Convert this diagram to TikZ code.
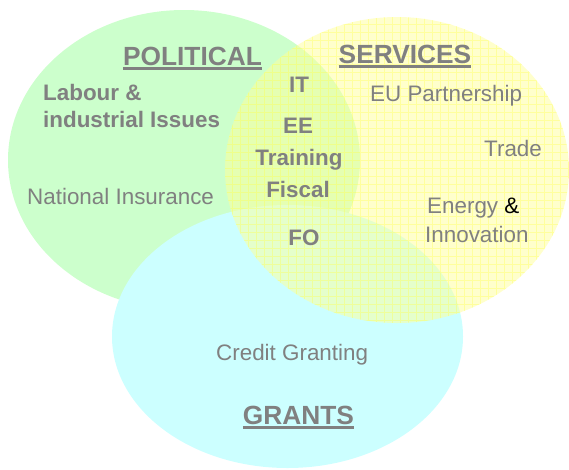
\documentclass[tikz,border=0pt]{standalone}
\usepackage{fontspec}
\setmainfont{Liberation Sans}
\definecolor{txt}{HTML}{808080}
\definecolor{gfill}{HTML}{CCFFCC}
\definecolor{cfill}{HTML}{CCFFFF}
\definecolor{yfill}{HTML}{FFFF99}
\definecolor{ygrid}{HTML}{FFFF44}
\tikzset{
  lbl/.style={inner sep=0pt, text=txt, font=\fontsize{22.4}{26}\selectfont},
  blbl/.style={inner sep=0pt, text=txt, font=\fontsize{22.4}{26}\selectfont\bfseries},
  ttl/.style={inner sep=0pt, text=txt, font=\fontsize{26.3}{30}\selectfont\bfseries},
  uline/.style={draw=txt, line width=2.6pt},
}
\begin{document}
\begin{tikzpicture}[x=1pt,y=-1pt]
\useasboundingbox (0,0) rectangle (569,469);
% circles
\fill[gfill] (184,160) ellipse [x radius=176, y radius=150];
\fill[cfill] (287.5,336.5) ellipse [x radius=175.5, y radius=131.5];
\fill[yfill, fill opacity=0.5] (397,170) ellipse [x radius=172, y radius=153];
\begin{scope}
  \clip (397,170) ellipse [x radius=172, y radius=153];
  \draw[ygrid, draw opacity=0.35, line width=0.5pt, step=8pt] (220,10) grid (575,330);
\end{scope}
% titles
\node[ttl, anchor=base] (pol) at (192.5,65) {POLITICAL};
\node[ttl, anchor=base] (ser) at (405,63) {SERVICES};
\node[ttl, anchor=base] (gra) at (298.5,424) {GRANTS};
\draw[uline] ([yshift=-3.6pt]pol.base west) -- ([yshift=-3.6pt]pol.base east);
\draw[uline] ([yshift=-3.6pt]ser.base west) -- ([yshift=-3.6pt]ser.base east);
\draw[uline] ([yshift=-3.6pt]gra.base west) -- ([yshift=-3.6pt]gra.base east);
% political
\node[blbl, anchor=base west] (lab) at (43,100) {Labour \&};
\node[blbl, anchor=base west] (ind) at (43,127) {industrial Issues};
\node[lbl, anchor=base west] (nat) at (27,204) {National Insurance};
% centre
\node[blbl, anchor=base] (it) at (299,92) {IT};
\node[blbl, anchor=base] (ee) at (298,133) {EE};
\node[blbl, anchor=base] (tra) at (299,165) {Training};
\node[blbl, anchor=base] (fis) at (298,197) {Fiscal};
\node[blbl, anchor=base] (fo) at (304,245) {FO};
% services
\node[lbl, anchor=base west] (eu) at (370,101) {EU Partnership};
\node[lbl, anchor=base west] (trd) at (484,156) {Trade};
\node[lbl, anchor=base west] (ene) at (427,213) {Energy \textcolor{black}{\&}};
\node[lbl, anchor=base west] (inn) at (425,242) {Innovation};
% grants
\node[lbl, anchor=base west] (cre) at (216,360) {Credit Granting};
\end{tikzpicture}
\end{document}
